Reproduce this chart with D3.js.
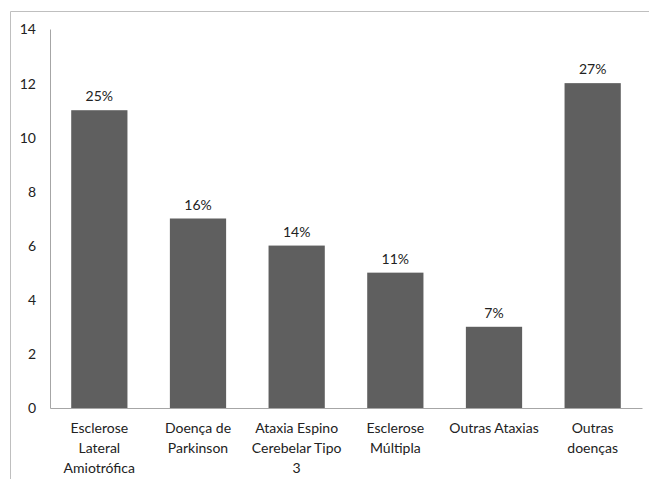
<!DOCTYPE html>
<html>
<head>
<meta charset="utf-8">
<style>
  body, html { margin: 0; padding: 0; background: #fff; }
  svg text { font-family: Lato, "Open Sans", sans-serif; font-size: 14px; fill: #222; }
</style>
</head>
<body>
<svg id="svg" width="649" height="479"></svg>
<script src="https://d3js.org/d3.v7.min.js"></script>
<script>
const categories = [
  ['Esclerose', 'Lateral', 'Amiotrófica'],
  ['Doença de', 'Parkinson'],
  ['Ataxia Espino', 'Cerebelar Tipo', '3'],
  ['Esclerose', 'Múltipla'],
  ['Outras Ataxias'],
  ['Outras', 'doenças']
]
const values = [11, 7, 6, 5, 3, 12]
const percentLabels = ['25%', '16%', '14%', '11%', '7%', '27%']
const yTicks = [0, 2, 4, 6, 8, 10, 12, 14]

const svg = d3.select('#svg')
const plotLeft = 50, plotRight = 642, plotTop = 29, plotBottom = 408

// frame (cut off at right and bottom)
svg.append('path')
  .attr('d', 'M10.5,479 L10.5,11.5 L649,11.5')
  .attr('fill', 'none')
  .attr('stroke', '#bfbfbf')

const keys = categories.map((c, i) => i)
const xscale = d3.scaleBand()
  .domain(keys)
  .range([plotLeft, plotRight])
  .paddingInner(0.43)
  .paddingOuter(0.215)

const yscale = d3.scaleLinear()
  .domain([0, 14])
  .range([plotBottom, plotTop])

svg.append('g')
  .selectAll('rect')
  .data(values)
  .enter()
  .append('rect')
  .attr('x', (d, i) => xscale(i))
  .attr('y', d => yscale(d))
  .attr('width', xscale.bandwidth())
  .attr('height', d => plotBottom - yscale(d))
  .attr('fill', '#5f5f5f')

// value labels
svg.append('g')
  .selectAll('text')
  .data(values)
  .enter()
  .append('text')
  .attr('x', (d, i) => xscale(i) + xscale.bandwidth() / 2)
  .attr('y', d => yscale(d) - 9)
  .attr('text-anchor', 'middle')
  .text((d, i) => percentLabels[i])

// y axis
const leftAxis = d3.axisLeft(yscale).tickValues(yTicks).tickSize(0).tickPadding(14)
const yg = svg.append('g')
  .attr('transform', `translate(${plotLeft},0)`)
  .call(leftAxis)
yg.select('.domain').attr('stroke', '#a6a6a6')
yg.selectAll('text').attr('dy', '0.35em')
yg.attr('font-family', null).attr('font-size', null)

// x axis
const bottomAxis = d3.axisBottom(xscale).tickSize(0).tickFormat('')
const xg = svg.append('g')
  .attr('transform', `translate(0,${plotBottom})`)
  .call(bottomAxis)
xg.select('.domain').attr('stroke', '#a6a6a6')

const catG = svg.append('g')
categories.forEach((lines, i) => {
  const t = catG.append('text')
    .attr('x', xscale(i) + xscale.bandwidth() / 2)
    .attr('y', 433)
    .attr('text-anchor', 'middle')
  lines.forEach((ln, j) => {
    t.append('tspan')
      .attr('x', xscale(i) + xscale.bandwidth() / 2)
      .attr('dy', j === 0 ? 0 : 20)
      .text(ln)
  })
})
</script>
</body>
</html>
